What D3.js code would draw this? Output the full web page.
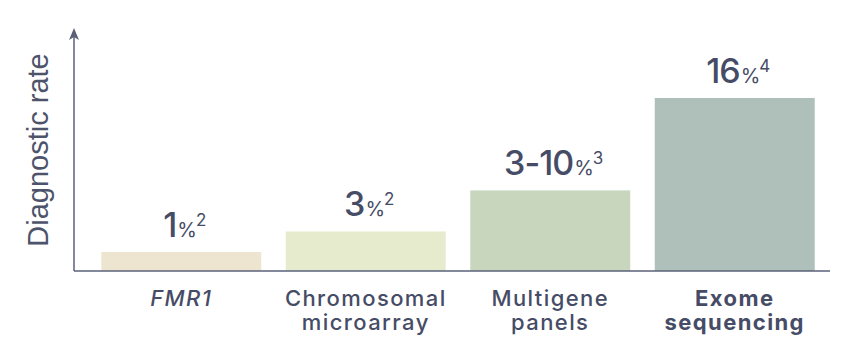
<!DOCTYPE html>
<html>
<head>
<meta charset="utf-8">
<script src="https://cdn.jsdelivr.net/npm/d3@7"></script>
<style>
  html, body { margin: 0; padding: 0; background: #ffffff; }
  svg { display: block; }
  text { font-family: Inter, "Noto Sans", sans-serif; }
</style>
</head>
<body>
<svg id="chart" width="852" height="354"></svg>
<script>
// ---- data ----
const categories = ["FMR1", "Chromosomal microarray", "Multigene panels", "Exome sequencing"];
const values = [1, 3, 7, 16];
const valueMain = ["1", "3", "3-10", "16"];
const valueRef = ["2", "2", "3", "4"];
const barColors = ["#ede5cf", "#e7ebcd", "#c9d6be", "#aec0b9"];
const yTitle = "Diagnostic rate";

const svg = d3.select("#chart");
const x0 = 74, x1 = 830, yBase = 271, yTop = 28;
const textColor = "#464c66";
const axisColor = "#5a6079";

const x = d3.scaleBand().domain(categories).range([89, 827]).paddingInner(0.133).paddingOuter(0.0665);
const y = d3.scaleLinear().domain([-0.85, 16]).range([yBase, 98]);

// bars
svg.append("g").selectAll("rect").data(categories).join("rect")
  .attr("x", d => x(d))
  .attr("width", x.bandwidth())
  .attr("y", (d, i) => y(values[i]))
  .attr("height", (d, i) => yBase - y(values[i]))
  .attr("fill", (d, i) => barColors[i]);

// axes
svg.append("line").attr("x1", x0).attr("x2", x1).attr("y1", yBase).attr("y2", yBase)
  .attr("stroke", axisColor).attr("stroke-width", 1.5);
svg.append("line").attr("x1", x0).attr("x2", x0).attr("y1", yBase).attr("y2", yTop + 8)
  .attr("stroke", axisColor).attr("stroke-width", 1.5);
svg.append("path")
  .attr("d", `M${x0},${yTop} L${x0 + 5},${yTop + 12} L${x0},${yTop + 9} L${x0 - 5},${yTop + 12} Z`)
  .attr("fill", axisColor);

// y title
svg.append("text")
  .attr("transform", `translate(48,150) rotate(-90)`)
  .attr("text-anchor", "middle")
  .style("font-family", "'Liberation Sans', Arial, sans-serif")
  .attr("font-size", 29)
  .attr("fill", "#4d536b")
  .text(yTitle);

// value labels
const vl = svg.append("g").selectAll("text").data(categories).join("text")
  .attr("x", d => x(d) + x.bandwidth() / 2 + 3)
  .attr("y", (d, i) => y(values[i]) - 15)
  .attr("text-anchor", "middle")
  .attr("fill", textColor)
  .style("font-variant-numeric", "proportional-nums")
  .attr("letter-spacing", -1);
vl.append("tspan").attr("font-size", 34).attr("font-weight", 500).text((d, i) => valueMain[i]);
vl.append("tspan").attr("font-size", 20).attr("font-weight", 400).attr("dx", 1).text("%");
vl.append("tspan").attr("font-size", 17).attr("font-weight", 400).attr("dy", -11).attr("dx", 0).text((d, i) => valueRef[i]);

// category labels
const lines = [["FMR1"], ["Chromosomal", "microarray"], ["Multigene", "panels"], ["Exome", "sequencing"]];
const cl = svg.append("g").selectAll("text").data(categories).join("text")
  .attr("x", d => x(d) + x.bandwidth() / 2)
  .attr("y", 306)
  .attr("text-anchor", "middle")
  .attr("fill", textColor)
  .attr("font-size", 22)
  .attr("letter-spacing", 1.4)
  .attr("font-weight", (d, i) => i === 3 ? 700 : 500)
  .attr("font-style", (d, i) => i === 0 ? "italic" : "normal");
cl.selectAll("tspan").data((d, i) => lines[i]).join("tspan")
  .attr("x", function () { return d3.select(this.parentNode).attr("x"); })
  .attr("dy", (d, j) => j === 0 ? 0 : 24)
  .text(d => d);
</script>
</body>
</html>
